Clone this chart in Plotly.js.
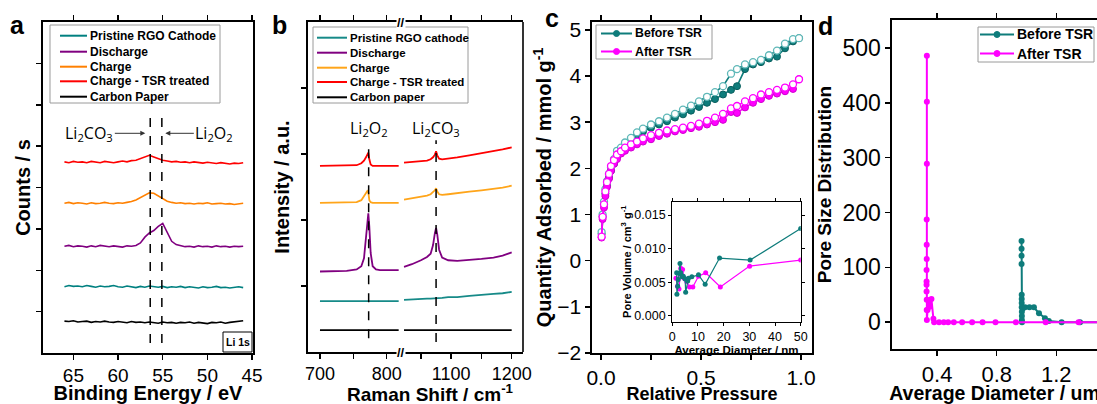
<!DOCTYPE html>
<html><head><meta charset="utf-8">
<script src="https://cdn.plot.ly/plotly-3.0.1.min.js"></script>
<style>html,body{margin:0;padding:0;background:#fff}#chart{width:1097px;height:404px}</style>
</head><body><div id="chart"></div>
<script>
// ---------- Panel a: XPS Li 1s ----------
const xpsEnergy = [66,65.5,65,64.5,64,63.5,63,62.5,62,61.5,61,60.5,60,59.5,59,58.5,58,57.5,57,56.5,56,55.5,55,54.5,54,53.5,53,52.5,52,51.5,51,50.5,50,49.5,49,48.5,48,47.5,47,46.5,46];
const xpsTSR = [4.62,4.60,4.63,4.61,4.62,4.60,4.63,4.61,4.60,4.63,4.62,4.60,4.62,4.64,4.62,4.65,4.66,4.70,4.74,4.78,4.74,4.69,4.66,4.64,4.62,4.63,4.61,4.62,4.60,4.62,4.61,4.59,4.61,4.60,4.58,4.60,4.59,4.57,4.59,4.58,4.60];
const xpsCharge = [3.62,3.64,3.61,3.63,3.62,3.60,3.63,3.61,3.62,3.64,3.62,3.61,3.63,3.62,3.64,3.66,3.70,3.75,3.82,3.87,3.86,3.80,3.72,3.67,3.64,3.62,3.63,3.61,3.62,3.60,3.62,3.61,3.63,3.60,3.61,3.62,3.60,3.61,3.59,3.61,3.62];
const xpsDischarge = [2.58,2.60,2.57,2.59,2.58,2.56,2.59,2.57,2.60,2.58,2.57,2.59,2.58,2.56,2.59,2.58,2.60,2.66,2.80,2.90,2.96,3.06,3.13,2.92,2.70,2.62,2.59,2.57,2.58,2.56,2.59,2.57,2.58,2.56,2.59,2.57,2.58,2.56,2.58,2.57,2.58];
const xpsPristine = [1.60,1.63,1.61,1.62,1.60,1.63,1.61,1.59,1.62,1.60,1.61,1.63,1.60,1.59,1.62,1.60,1.58,1.61,1.59,1.62,1.60,1.59,1.61,1.58,1.60,1.59,1.61,1.58,1.60,1.59,1.57,1.60,1.58,1.59,1.61,1.58,1.59,1.57,1.59,1.60,1.58];
const xpsCarbon = [0.77,0.76,0.78,0.75,0.76,0.77,0.74,0.76,0.75,0.77,0.75,0.74,0.76,0.75,0.73,0.76,0.74,0.75,0.73,0.75,0.74,0.72,0.75,0.73,0.74,0.72,0.74,0.73,0.75,0.72,0.74,0.73,0.71,0.74,0.73,0.75,0.72,0.74,0.75,0.77,0.78];
const xpsTicks = [65,60,55,50,45];
const xpsNames = ['Pristine RGO Cathode','Discharge','Charge','Charge - TSR treated','Carbon Paper'];
const xpsColors = ['#008080','#800080','#FF8000','#FF0000','#000000'];
const xpsRefLines = [56.4, 55.1];

// ---------- Panel b: Raman ----------
const ramanLeftX = [700,720,740,755,762,766,769,771,772.5,774,776,779,784,790,800,818];
const ramanRightX = [1022,1035,1050,1060,1066,1070,1073,1075,1077,1080,1085,1095,1110,1130,1150,1170,1185,1200];
const ramanTSR_L = [2.82,2.82,2.82,2.83,2.86,2.90,2.95,2.98,3.02,2.92,2.84,2.82,2.82,2.82,2.82,2.82];
const ramanTSR_R = [2.87,2.88,2.89,2.90,2.92,2.95,2.99,3.04,2.98,2.93,2.92,2.93,2.95,2.98,3.01,3.04,3.07,3.10];
const ramanCharge_L = [2.26,2.26,2.26,2.27,2.30,2.36,2.41,2.44,2.42,2.30,2.27,2.26,2.26,2.26,2.26,2.26];
const ramanCharge_R = [2.31,2.33,2.35,2.37,2.39,2.42,2.45,2.48,2.43,2.39,2.38,2.39,2.41,2.43,2.45,2.47,2.49,2.52];
const ramanDis_L = [1.22,1.22,1.23,1.25,1.30,1.42,1.75,2.02,2.10,1.90,1.50,1.30,1.25,1.24,1.24,1.24];
const ramanDis_R = [1.29,1.33,1.39,1.44,1.49,1.62,1.80,1.88,1.78,1.55,1.43,1.39,1.38,1.39,1.41,1.43,1.46,1.51];
const ramanPristine_L = [0.77,0.77,0.77,0.77,0.77,0.77,0.77,0.77,0.77,0.77,0.77,0.77,0.77,0.77,0.77,0.77];
const ramanPristine_R = [0.79,0.80,0.81,0.81,0.81,0.81,0.82,0.82,0.82,0.82,0.82,0.83,0.83,0.85,0.87,0.88,0.89,0.91];
const ramanCarbon_L = [0.33,0.33,0.34,0.33,0.33,0.33,0.33,0.33,0.33,0.33,0.33,0.33,0.33,0.33,0.33,0.33];
const ramanCarbon_R = [0.33,0.33,0.33,0.33,0.33,0.33,0.33,0.33,0.33,0.33,0.33,0.33,0.33,0.33,0.33,0.33,0.33,0.33];
const ramanNames = ['Pristine RGO cathode','Discharge','Charge','Charge - TSR treated','Carbon paper'];
const ramanColors = ['#168A88','#800080','#FFA51A','#FF0000','#000000'];
const ramanPeaks = [773, 1075];

// ---------- Panel c: isotherm ----------
const relPressure = [0.003,0.008,0.015,0.022,0.03,0.04,0.05,0.065,0.08,0.1,0.12,0.15,0.18,0.21,0.25,0.29,0.33,0.37,0.41,0.45,0.49,0.53,0.57,0.61,0.65,0.68,0.72,0.76,0.8,0.84,0.88,0.92,0.96,0.99];
const beforeAds = [0.58,0.95,1.22,1.45,1.62,1.8,1.95,2.1,2.25,2.42,2.5,2.6,2.7,2.8,2.88,2.95,3.02,3.1,3.17,3.25,3.33,3.42,3.5,3.6,3.7,3.78,4.15,4.25,4.3,4.38,4.42,4.6,4.75,4.82];
const beforeDes = [0.62,1.0,1.28,1.55,1.72,1.88,2.02,2.2,2.38,2.45,2.56,2.66,2.78,2.86,2.95,3.02,3.1,3.18,3.27,3.36,3.45,3.55,3.65,3.78,4.05,4.15,4.25,4.3,4.35,4.45,4.55,4.7,4.8,4.82];
const afterAds = [0.5,0.9,1.15,1.4,1.6,1.78,1.95,2.1,2.2,2.32,2.38,2.45,2.52,2.58,2.63,2.7,2.75,2.8,2.83,2.87,2.9,2.95,3.0,3.05,3.22,3.2,3.32,3.42,3.5,3.57,3.62,3.67,3.72,3.93];
const afterDes = [0.52,0.95,1.22,1.5,1.7,1.88,2.05,2.18,2.3,2.37,2.45,2.52,2.58,2.65,2.72,2.77,2.82,2.85,2.88,2.92,2.97,3.03,3.1,3.18,3.3,3.35,3.45,3.52,3.6,3.65,3.7,3.75,3.82,3.93];
const tsrNames = ['Before TSR', 'After TSR'];
// inset
const insetBeforeD = [1.7,1.8,2.1,2.3,2.7,3.0,3.3,3.8,4.3,5.0,5.2,6.0,6.3,7.6,10.2,12.8,18.4,30.3,50];
const insetBeforeV = [0.0064,0.0032,0.0044,0.0054,0.0063,0.0078,0.0064,0.0058,0.0059,0.0055,0.0035,0.0052,0.0056,0.0058,0.0061,0.0047,0.0086,0.0083,0.013];
const insetAfterD = [1.4,2.0,2.6,3.3,4.0,4.6,5.6,6.7,8.0,10.2,13.0,18.7,30.1,50];
const insetAfterV = [0.0056,0.0044,0.0040,0.0071,0.0069,0.0056,0.0051,0.0043,0.0043,0.0059,0.0064,0.0043,0.0074,0.0083];

// ---------- Panel d: pore size distribution ----------
const psdBeforeD = [0.967,0.967,0.967,0.967,0.968,0.968,0.968,0.968,0.969,0.969,0.969,0.97,0.975,0.99,1.02,1.05,1.084,1.124,1.15,1.236,1.36,1.6];
const psdBeforeV = [148,134,121,106,50,42,35,27,19,11,4,0,25,27,27,27,16,7,2,0,0,0];
const psdAfterD = [0.331,0.331,0.331,0.330,0.330,0.330,0.329,0.329,0.329,0.329,0.33,0.33,0.331,0.336,0.342,0.35,0.362,0.375,0.38,0.413,0.445,0.474,0.512,0.568,0.635,0.705,0.792,0.929,1.129,1.35,1.6];
const psdAfterV = [486,402,289,187,141,115,95,74,68,56,41,22,4,22,40,28,42,6,0,0,0,0,0,0,0,0,0,0,0,0,0];

const TEAL = '#0E7C7B', MAG = '#FF00FF';
const FONT = 'Arial, "Liberation Sans", sans-serif';
const W = 1097, H = 404;
const px = p => p / W;
const py = p => 1 - p / H;

const traces = [];
// panel a
const xpsSeries = [xpsPristine, xpsDischarge, xpsCharge, xpsTSR, xpsCarbon];
xpsSeries.forEach((s, i) => traces.push({x: xpsEnergy, y: s, xaxis: 'x', yaxis: 'y', mode: 'lines', name: xpsNames[i], showlegend: false, line: {color: xpsColors[i], width: 1.6}}));
// panel b
const ramL = [ramanPristine_L, ramanDis_L, ramanCharge_L, ramanTSR_L, ramanCarbon_L];
const ramR = [ramanPristine_R, ramanDis_R, ramanCharge_R, ramanTSR_R, ramanCarbon_R];
ramL.forEach((s, i) => traces.push({x: ramanLeftX, y: s, xaxis: 'x2', yaxis: 'y2', mode: 'lines', name: ramanNames[i], showlegend: false, line: {color: ramanColors[i], width: 1.8}}));
ramR.forEach((s, i) => traces.push({x: ramanRightX, y: s, xaxis: 'x3', yaxis: 'y2', mode: 'lines', name: ramanNames[i], showlegend: false, line: {color: ramanColors[i], width: 1.8}}));
// panel c
traces.push({x: relPressure, y: beforeAds, xaxis: 'x4', yaxis: 'y3', mode: 'lines+markers', name: tsrNames[0] + ' (adsorption)', showlegend: false, line: {color: TEAL, width: 1.6}, marker: {size: 7, color: TEAL, line: {color: '#0a5f5e', width: 1}}});
traces.push({x: relPressure, y: beforeDes, xaxis: 'x4', yaxis: 'y3', mode: 'lines+markers', name: tsrNames[0] + ' (desorption)', showlegend: false, line: {color: TEAL, width: 1.6}, marker: {size: 7, color: '#ffffff', line: {color: '#5fb8b8', width: 1.3}}});
traces.push({x: relPressure, y: afterAds, xaxis: 'x4', yaxis: 'y3', mode: 'lines+markers', name: tsrNames[1] + ' (adsorption)', showlegend: false, line: {color: MAG, width: 1.6}, marker: {size: 7, color: MAG, line: {color: '#d000d0', width: 1}}});
traces.push({x: relPressure, y: afterDes, xaxis: 'x4', yaxis: 'y3', mode: 'lines+markers', name: tsrNames[1] + ' (desorption)', showlegend: false, line: {color: MAG, width: 1.6}, marker: {size: 7, color: '#ffffff', line: {color: MAG, width: 1.3}}});
// inset
traces.push({x: insetAfterD, y: insetAfterV, xaxis: 'x5', yaxis: 'y4', mode: 'lines+markers', name: tsrNames[1] + ' (inset)', showlegend: false, line: {color: MAG, width: 1.2}, marker: {size: 5, color: MAG}});
traces.push({x: insetBeforeD, y: insetBeforeV, xaxis: 'x5', yaxis: 'y4', mode: 'lines+markers', name: tsrNames[0] + ' (inset)', showlegend: false, line: {color: TEAL, width: 1.2}, marker: {size: 5, color: TEAL}});
// panel d
traces.push({x: psdBeforeD, y: psdBeforeV, xaxis: 'x6', yaxis: 'y5', mode: 'lines+markers', name: tsrNames[0], showlegend: false, line: {color: TEAL, width: 2}, marker: {size: 6, color: TEAL}});
traces.push({x: psdAfterD, y: psdAfterV, xaxis: 'x6', yaxis: 'y5', mode: 'lines+markers', name: tsrNames[1], showlegend: false, line: {color: MAG, width: 2}, marker: {size: 6, color: MAG}});

const axBase = {showline: true, linecolor: '#000', linewidth: 1.6, ticks: 'outside', ticklen: 5, tickwidth: 1.5, tickcolor: '#000', showgrid: false, zeroline: false, automargin: false, tickfont: {family: FONT, color: '#000'}};
const ttl = (t, size, standoff) => ({text: t, font: {family: FONT, size: size, weight: 'bold', color: '#000'}, standoff: standoff});

const layout = {
  width: W, height: H, margin: {l: 0, r: 0, t: 0, b: 0}, paper_bgcolor: '#fff', plot_bgcolor: 'rgba(0,0,0,0)',
  font: {family: FONT, color: '#000'},
  showlegend: false,
  // panel a
  xaxis: Object.assign({}, axBase, {domain: [px(43), px(253)], range: [68.4, 44.9], tickvals: xpsTicks, mirror: 'ticks', anchor: 'y', tickfont: {family: FONT, size: 19}, title: ttl('Binding Energy / eV', 20, 4)}),
  yaxis: Object.assign({}, axBase, {domain: [py(353), py(22)], range: [0, 8], tickvals: [1,2,3,4,5,6,7], showticklabels: false, mirror: true, anchor: 'x', title: ttl('Counts / s', 20, 0)}),
  // panel b
  xaxis2: Object.assign({}, axBase, {domain: [px(307.7), px(401)], range: [681.6, 821.5], tickvals: [700,750,800], ticktext: ['700',' ','800'], mirror: 'ticks', anchor: 'y2', tickfont: {family: FONT, size: 18}}),
  xaxis3: Object.assign({}, axBase, {domain: [px(401), px(523)], range: [1017, 1218.7], tickvals: [1050,1100,1150,1200], ticktext: [' ','1100',' ','1200'], mirror: 'ticks', anchor: 'y2', tickfont: {family: FONT, size: 18}}),
  yaxis2: Object.assign({}, axBase, {domain: [py(352), py(22)], range: [0, 5], tickvals: [1,2,3,4], showticklabels: false, anchor: 'x2', title: ttl('Intensity / a.u.', 20, 6)}),
  // panel c
  xaxis4: Object.assign({}, axBase, {domain: [px(592), px(812)], range: [-0.045, 1.055], tickvals: [0,0.25,0.5,0.75,1], ticktext: ['0.0',' ','0.5',' ','1.0'], mirror: 'ticks', anchor: 'y3', tickfont: {family: FONT, size: 21}, title: ttl('Relative Pressure', 18, 4)}),
  yaxis3: Object.assign({}, axBase, {domain: [py(353), py(22)], range: [-2, 5.17], dtick: 1, mirror: true, anchor: 'x4', tickfont: {family: FONT, size: 21}, title: ttl('Quantity Adsorbed / mmol g<sup>-1</sup>', 20, 0)}),
  // inset
  xaxis5: Object.assign({}, axBase, {domain: [px(672.3), px(800.7)], range: [0, 50], dtick: 10, linewidth: 1.2, ticklen: 3, tickwidth: 1, mirror: 'ticks', anchor: 'y4', tickfont: {family: FONT, size: 12.5}, title: ttl('Average Diameter / nm', 11.5, 0)}),
  yaxis4: Object.assign({}, axBase, {domain: [py(321.7), py(201.7)], range: [-0.00088, 0.017], tickvals: [0,0.005,0.01,0.015], ticktext: ['0.000','0.005','0.010','0.015'], linewidth: 1.2, ticklen: 3, tickwidth: 1, mirror: 'ticks', anchor: 'x5', tickfont: {family: FONT, size: 12.5}, title: ttl('Pore Volume / cm<sup>3</sup> g<sup>-1</sup>', 11, 0)}),
  // panel d
  xaxis6: Object.assign({}, axBase, {domain: [px(892), 1], range: [0.097, 1.4736], tickvals: [0.4,0.8,1.2], mirror: 'ticks', anchor: 'y5', tickfont: {family: FONT, size: 22}, title: ttl('Average Diameter / um', 19.5, 0)}),
  yaxis5: Object.assign({}, axBase, {domain: [py(349), py(20)], range: [-49, 551], dtick: 100, anchor: 'x6', tickfont: {family: FONT, size: 23}, title: ttl('Pore Size Distribution', 19, 6)}),
  shapes: [], annotations: []
};

const S = layout.shapes, A = layout.annotations;
const ann = o => A.push(Object.assign({xref: 'paper', yref: 'paper', xanchor: 'center', yanchor: 'middle', showarrow: false}, o));
// panel a dashed reference lines
xpsRefLines.forEach(v => S.push({type: 'line', xref: 'x', yref: 'y', x0: v, x1: v, y0: 0.24, y1: 5.75, line: {color: '#000', width: 1.5, dash: 'dash'}}));
// panel b dashed reference lines
S.push({type: 'line', xref: 'x2', yref: 'y2', x0: ramanPeaks[0], x1: ramanPeaks[0], y0: 0.21, y1: 3.21, line: {color: '#000', width: 1.5, dash: 'dash'}});
S.push({type: 'line', xref: 'x3', yref: 'y2', x0: ramanPeaks[1], x1: ramanPeaks[1], y0: 0.15, y1: 3.21, line: {color: '#000', width: 1.5, dash: 'dash'}});
// panel b right frame
S.push({type: 'line', xref: 'paper', yref: 'paper', x0: px(523), x1: px(523), y0: py(352), y1: py(22), line: {color: '#000', width: 1.6}});
// Li 1s box
S.push({type: 'rect', xref: 'paper', yref: 'paper', x0: px(223), x1: px(252), y0: py(352), y1: py(332), line: {color: '#000', width: 1}, fillcolor: '#fff'});
ann({x: px(237.5), y: py(342), text: '<b>Li 1s</b>', font: {family: FONT, size: 10.5, color: '#000'}});

// custom legends
function customLegend(names, colors, box, lineX0, lineX1, textX, ys, fsize, markerX, msize) {
  S.push({type: 'rect', xref: 'paper', yref: 'paper', x0: px(box[0]), x1: px(box[1]), y0: py(box[3]), y1: py(box[2]), line: {color: '#9a9a9a', width: 1}, fillcolor: 'rgba(0,0,0,0)'});
  names.forEach((n, i) => {
    S.push({type: 'line', xref: 'paper', yref: 'paper', x0: px(lineX0), x1: px(lineX1), y0: py(ys[i]), y1: py(ys[i]), line: {color: colors[i], width: 2}});
    if (markerX) {
      const r = msize / 2;
      S.push({type: 'circle', xref: 'paper', yref: 'paper', x0: px(markerX - r), x1: px(markerX + r), y0: py(ys[i] + r), y1: py(ys[i] - r), line: {color: colors[i], width: 1}, fillcolor: colors[i]});
    }
    ann({x: px(textX), y: py(ys[i]), xanchor: 'left', text: '<b>' + n + '</b>', font: {family: FONT, size: fsize, color: '#000'}});
  });
}
customLegend(xpsNames, xpsColors, [50, 220, 25, 103], 60, 87, 88, [35.7, 51.7, 66.7, 81.3, 96.7], 12);
customLegend(ramanNames, ramanColors, [313, 468, 27, 103], 317, 347, 348, [37.7, 52.7, 67.7, 82, 97.3], 11.5);
customLegend(tsrNames, [TEAL, MAG], [596, 712, 25, 59], 601, 632, 633, [33.5, 51.5], 12.3, 616.5, 6);
customLegend(tsrNames, [TEAL, MAG], [978, 1094, 27, 62], 980, 1014, 1015, [34.5, 53.5], 14, 997, 6);

// panel a Li labels with arrows
const liFont = {family: '"Open Sans", "Noto Sans", Arial, sans-serif', size: 16, color: '#000'};
A.push({xref: 'x', yref: 'y', x: 56.95, y: 5.31, ax: -56, ay: 0, text: 'Li<sub>2</sub>CO<sub>3</sub>', showarrow: true, arrowhead: 2, arrowsize: 1, arrowwidth: 1, arrowcolor: '#333', font: liFont});
A.push({xref: 'x', yref: 'y', x: 54.71, y: 5.31, ax: 49, ay: 0, text: 'Li<sub>2</sub>O<sub>2</sub>', showarrow: true, arrowhead: 2, arrowsize: 1, arrowwidth: 1, arrowcolor: '#333', font: liFont});
// panel b labels
A.push({xref: 'x2', yref: 'y2', x: ramanPeaks[0], y: 3.39, xanchor: 'center', yanchor: 'middle', text: 'Li<sub>2</sub>O<sub>2</sub>', showarrow: false, font: liFont});
A.push({xref: 'x3', yref: 'y2', x: ramanPeaks[1], y: 3.39, xanchor: 'center', yanchor: 'middle', text: 'Li<sub>2</sub>CO<sub>3</sub>', showarrow: false, font: liFont});
// axis breaks
[22, 352].forEach(yy => ann({x: px(401), y: py(yy), text: '<b>//</b>', bgcolor: '#fff', borderpad: 0, font: {family: FONT, size: 13, color: '#000'}}));
// panel b x title
ann({x: px(430), y: py(393), text: '<b>Raman Shift / cm<sup>-1</sup></b>', font: {family: FONT, size: 19, color: '#000'}});
// panel letters
[['a', 17, 25], ['b', 279, 25], ['c', 552, 18], ['d', 825, 26]].forEach(l => ann({x: px(l[1]), y: py(l[2]), text: '<b>' + l[0] + '</b>', font: {family: FONT, size: 25, color: '#000'}}));

Plotly.newPlot('chart', traces, layout, {staticPlot: true, displayModeBar: false});
</script></body></html>
